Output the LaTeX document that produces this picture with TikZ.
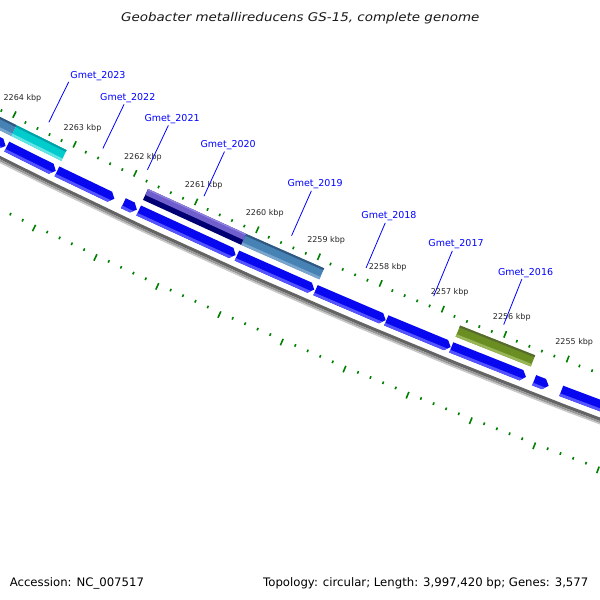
\documentclass[tikz,border=0pt]{standalone}
\usepackage{fontspec}
\setmainfont{DejaVu Sans}
\usepackage{graphicx}
\usetikzlibrary{calc}
\definecolor{tickgreen}{RGB}{0,128,0}
\definecolor{labelblue}{RGB}{0,0,255}
\definecolor{genemain}{RGB}{8,8,240}
\definecolor{geneshade}{RGB}{85,85,255}
\definecolor{steelmain}{RGB}{70,130,180}
\definecolor{steeltop}{RGB}{48,88,128}
\definecolor{steelbot}{RGB}{120,165,205}
\definecolor{cyanmain}{RGB}{0,204,206}
\definecolor{cyantop}{RGB}{0,160,165}
\definecolor{cyanbot}{RGB}{100,228,228}
\definecolor{olivemain}{RGB}{107,142,35}
\definecolor{olivetop}{RGB}{85,107,47}
\definecolor{olivebot}{RGB}{152,182,88}
\definecolor{purpmain}{RGB}{110,95,205}
\definecolor{purptop}{RGB}{145,130,225}
\definecolor{navymain}{RGB}{0,0,115}
\definecolor{bbdark}{RGB}{100,100,100}
\definecolor{bbmid}{RGB}{150,150,150}
\definecolor{bblight}{RGB}{200,200,200}
\newcommand{\cogbox}[5]{%
  \fill[#3] ({th(#1)}:6429) -- ({th(#2)}:6429) -- ({th(#2)}:6441) -- ({th(#1)}:6441) -- cycle;
  \fill[#4] ({th(#1)}:6429) -- ({th(#2)}:6429) -- ({th(#2)}:6431) -- ({th(#1)}:6431) -- cycle;
  \fill[#5] ({th(#1)}:6438.3) -- ({th(#2)}:6438.3) -- ({th(#2)}:6441) -- ({th(#1)}:6441) -- cycle;}
\tikzset{
  tickmark/.style={draw=tickgreen, line width=1.6pt},
  kbplabel/.style={font=\fontsize{8}{9}\selectfont, text=black!85, inner sep=0pt},
  genelabel/.style={font=\fontsize{9.5}{11}\selectfont, text=labelblue, inner sep=0pt},
  labline/.style={draw=labelblue, line width=0.8pt},
  infotext/.style={font=\fontsize{11.7}{13}\selectfont, text=black, inner sep=0pt},
}
\begin{document}
\begin{tikzpicture}[x=1pt,y=-1pt,declare function={th(\k)=116.52+(\k-2264)*0.6;}]
\useasboundingbox (0,0) rectangle (600,600);
\fill[white] (0,0) rectangle (600,600);
\begin{scope}
\clip (0,0) rectangle (600,600);
\begin{scope}[shift={(2881,-5630)}]
  % backbone
  \draw[bbdark, line width=3.2pt] plot[domain=2253:2265.4, samples=50] ({th(\x)}:6465.4);
  \draw[bbmid, line width=2pt] plot[domain=2253:2265.4, samples=50] ({th(\x)}:6468);
  \draw[bblight, line width=1.4pt] plot[domain=2253:2265.4, samples=50] ({th(\x)}:6469.7);
  % rulers
  \foreach \k in {2254,...,2265} {
    \draw[tickmark] ({th(\k)}:6417) -- ({th(\k)}:6424);
    \draw[tickmark] ({th(\k)}:6510) -- ({th(\k)}:6517);
  }
  \foreach \k in {2253,...,2264} {
    \foreach \f in {0.2,0.4,0.6,0.8} {
      \draw[tickmark] ({th(\k+\f)}:6421.3) -- ({th(\k+\f)}:6424);
      \draw[tickmark] ({th(\k+\f)}:6510) -- ({th(\k+\f)}:6512.7);
    }
  }
  \foreach \k in {2255,...,2264} {
    \node[kbplabel] (kbp\k) at ({th(\k)}:6402.5) {\k\ kbp};
  }
  % COG coloured features
  \cogbox{2264.9}{2263.90}{steelmain}{steeltop}{steelbot}
  \cogbox{2263.90}{2263.07}{cyanmain}{cyantop}{cyanbot}
  \cogbox{2260.13}{2258.86}{steelmain}{steeltop}{steelbot}
  \cogbox{2256.67}{2255.47}{olivemain}{olivetop}{olivebot}
  \fill[navymain] ({th(2261.73)}:6429) -- ({th(2260.13)}:6429) -- ({th(2260.13)}:6441) -- ({th(2261.73)}:6441) -- cycle;
  \fill[purpmain] ({th(2261.73)}:6429) -- ({th(2260.13)}:6429) -- ({th(2260.13)}:6435.5) -- ({th(2261.73)}:6435.5) -- cycle;
  \fill[purptop] ({th(2261.73)}:6429) -- ({th(2260.13)}:6429) -- ({th(2260.13)}:6430.3) -- ({th(2261.73)}:6430.3) -- cycle;
  % genes (blue arrows)
  \foreach \s/\e in {2264.9/2263.91, 2263.89/2263.08, 2263.06/2262.12, 2261.97/2261.75,
      2261.72/2260.14, 2260.12/2258.87, 2258.85/2257.72, 2257.71/2256.68,
      2256.67/2255.48, 2255.35/2255.12, 2254.92/2253.3} {
    \pgfmathsetmacro\h{\e+0.074}
    \pgfmathsetmacro\m{\e+0.037}
    \fill[genemain] ({th(\s)}:6447) -- ({th(\h)}:6447) -- ({th(\e)}:6452.5) -- ({th(\h)}:6458) -- ({th(\s)}:6458) -- cycle;
    \fill[geneshade] ({th(\s)}:6455.2) -- ({th(\m)}:6455.2) -- ({th(\h)}:6458) -- ({th(\s)}:6458) -- cycle;
  }
  % label line end points
  \foreach \n/\k/\r in {2023/2263.49/6367, 2022/2262.595/6363, 2021/2261.86/6363,
      2020/2260.93/6363, 2019/2259.50/6363, 2018/2258.29/6363,
      2017/2257.20/6363, 2016/2256.075/6363} {
    \coordinate (b\n) at ({th(\k)}:6412);
    \coordinate (t\n) at ({th(\k)}:\r);
  }
\end{scope}
\end{scope}
% gene labels
\node[genelabel, anchor=base west] (g2023) at ($(t2023)+(1.5,-3)$) {Gmet\_2023};
\foreach \n in {2022,2021,2020,2019,2018,2017,2016} {
  \node[genelabel, anchor=base] (g\n) at ($(t\n)+(3.7,-4)$) {Gmet\_\n};
}
\foreach \n in {2023,2022,2021,2020,2019,2018,2017,2016} {
  \draw[labline] (b\n) -- (t\n);
}
% title and footer
\node[anchor=base, inner sep=0pt, text=black!90] (title) at (300.3,21.5)
  {\scalebox{1.12}[1]{\fontsize{12}{14}\selectfont\itshape Geobacter metallireducens GS-15, complete genome}};
\node[infotext, anchor=base west] (acc) at (9.6,586) {Accession: NC\_007517};
\node[infotext, anchor=base east] (topo) at (588.5,586) {Topology: circular; Length: 3,997,420 bp; Genes: 3,577};
\end{tikzpicture}
\end{document}
